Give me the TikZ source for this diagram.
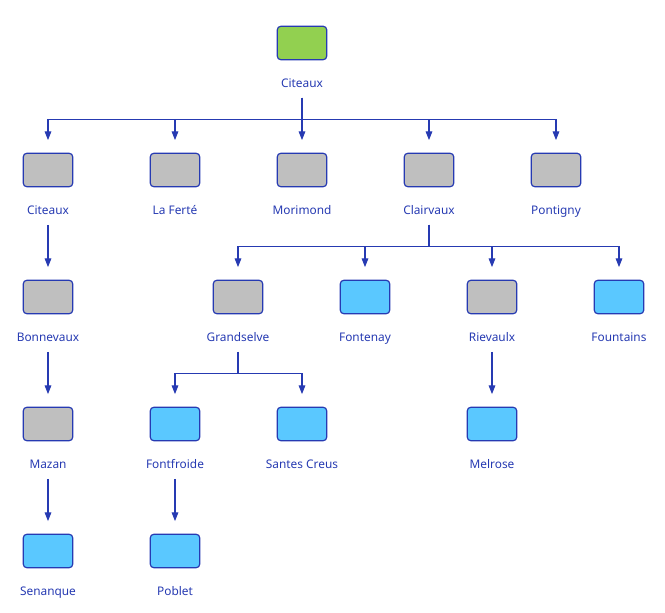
\documentclass[tikz,border=0pt]{standalone}
\usepackage{fontspec}
\setmainfont{Noto Sans}
\usepackage{xcolor}
\usetikzlibrary{positioning, arrows.meta}

\definecolor{LineBlue}{RGB}{38,58,178}
\definecolor{AbbeyGreen}{RGB}{146,208,80}
\definecolor{AbbeyGrey}{RGB}{191,191,191}
\definecolor{AbbeyBlue}{RGB}{90,200,255}

\begin{document}
\begin{tikzpicture}[
			x=0.75pt, y=-0.75pt,
			AbbeyCfg/.style={
				draw=LineBlue, line width=0.9pt, rounded corners=2.5pt,
				minimum width=37pt, minimum height=25pt, inner sep=0
			},
			Mother/.style={AbbeyCfg, fill=AbbeyGreen},
			Grey/.style={AbbeyCfg, fill=AbbeyGrey},
			Daughter/.style={AbbeyCfg, fill=AbbeyBlue},
			LabelCfg/.style={
				below=8.25pt of #1, text=LineBlue, inner sep=0,
				text height=6.6pt, text depth=1.9pt,
				minimum height=19.5pt, font=\fontsize{8.9}{10}\selectfont
			},
			LinkCfg/.style={
				draw=LineBlue, line width=0.8pt,
				-{Triangle[width=5pt, length=6.5pt]}, shorten >=9.5pt
			}
			]
			
			\useasboundingbox (0,0) rectangle (665,613);
			
			% abbeys
			\path
			(302, 43) node [Mother] (Citeaux) {}
			( 48,170) node [Grey] (CiteauxB) {}
			(175,170) node [Grey] (LaFerte) {}
			(302,170) node [Grey] (Morimond) {}
			(429,170) node [Grey] (Clairvaux) {}
			(556,170) node [Grey] (Pontigny) {}
			( 48,297) node [Grey] (Bonnevaux) {}
			(238,297) node [Grey] (Grandselve) {}
			(365,297) node [Daughter] (Fontenay) {}
			(492,297) node [Grey] (Rievaulx) {}
			(619,297) node [Daughter] (Fountains) {}
			( 48,424) node [Grey] (Mazan) {}
			(175,424) node [Daughter] (Fontfroide) {}
			(302,424) node [Daughter] (Santes) {}
			(492,424) node [Daughter] (Melrose) {}
			( 48,551) node [Daughter] (Senanque) {}
			(175,551) node [Daughter] (Poblet) {};
			
			% names
			\node [LabelCfg=Citeaux] (CiteauxL) {Citeaux};
			\node [LabelCfg=CiteauxB] (CiteauxBL) {Citeaux};
			\node [LabelCfg=LaFerte] (LaFerteL) {La Ferté};
			\node [LabelCfg=Morimond] (MorimondL) {Morimond};
			\node [LabelCfg=Clairvaux] (ClairvauxL) {Clairvaux};
			\node [LabelCfg=Pontigny] (PontignyL) {Pontigny};
			\node [LabelCfg=Bonnevaux] (BonnevauxL) {Bonnevaux};
			\node [LabelCfg=Grandselve] (GrandselveL) {Grandselve};
			\node [LabelCfg=Fontenay] (FontenayL) {Fontenay};
			\node [LabelCfg=Rievaulx] (RievaulxL) {Rievaulx};
			\node [LabelCfg=Fountains] (FountainsL) {Fountains};
			\node [LabelCfg=Mazan] (MazanL) {Mazan};
			\node [LabelCfg=Fontfroide] (FontfroideL) {Fontfroide};
			\node [LabelCfg=Santes] (SantesL) {Santes Creus};
			\node [LabelCfg=Melrose] (MelroseL) {Melrose};
			\node [LabelCfg=Senanque] (SenanqueL) {Senanque};
			\node [LabelCfg=Poblet] (PobletL) {Poblet};
			
			% filiation
			\foreach \child in {CiteauxB, LaFerte, Morimond, Clairvaux, Pontigny}
				\draw [LinkCfg] (CiteauxL.south) -- ++(0,22) -| (\child.north);
			\foreach \child in {Grandselve, Fontenay, Rievaulx, Fountains}
				\draw [LinkCfg] (ClairvauxL.south) -- ++(0,22) -| (\child.north);
			\foreach \child in {Fontfroide, Santes}
				\draw [LinkCfg] (GrandselveL.south) -- ++(0,22) -| (\child.north);
			
			\draw [LinkCfg] (CiteauxBL) -- (Bonnevaux);
			\draw [LinkCfg] (BonnevauxL) -- (Mazan);
			\draw [LinkCfg] (MazanL) -- (Senanque);
			\draw [LinkCfg] (RievaulxL) -- (Melrose);
			\draw [LinkCfg] (FontfroideL) -- (Poblet);
		\end{tikzpicture}
\end{document}
